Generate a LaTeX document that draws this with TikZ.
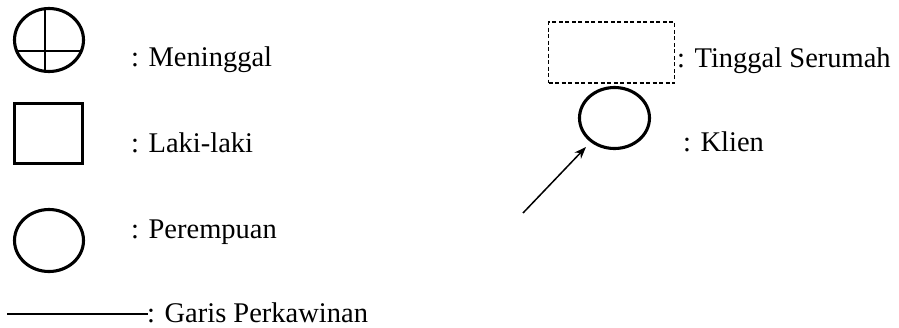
\documentclass[tikz,border=0pt]{standalone}
\usepackage{fontspec}
\setmainfont{Liberation Serif}
\usetikzlibrary{shapes.geometric,arrows.meta}
\begin{document}
\begin{tikzpicture}[x=1pt,y=-1pt,
  sym/.style={draw,line width=3.1pt,inner sep=0pt,outer sep=0pt},
  oval/.style={sym,ellipse,minimum width=69pt,minimum height=63pt},
  lab/.style={anchor=base west,inner sep=0pt,font=\fontsize{28.5}{34}\selectfont},
  thin/.style={line width=1.5pt}]
\useasboundingbox (0,0) rectangle (899,327);
% Meninggal
\node[oval] (dead) at (49,40) {};
\draw[thin] (45,8.7) -- (45,71.3);
\draw[thin] (16.7,51) -- (81.3,51);
\node[lab] (tdead) at (131,66) {: Meninggal};
% Laki-laki
\node[sym,rectangle,minimum width=68pt,minimum height=60pt] (male) at (48.5,133.5) {};
\node[lab] (tmale) at (131,152) {: Laki-laki};
% Perempuan
\node[oval,minimum height=62pt] (female) at (49,240.5) {};
\node[lab] (tfemale) at (131,238) {: Perempuan};
% Garis Perkawinan
\coordinate (ga) at (7,314);
\coordinate (gb) at (148,314);
\draw[thin] (ga) -- (gb);
\node[lab] (tmarr) at (147,322) {: Garis Perkawinan};
% Tinggal Serumah
\node[draw,thin,dash pattern=on 4pt off 2.5pt,rectangle,minimum width=126pt,minimum height=61pt,inner sep=0pt] (house) at (611.5,52.5) {};
\node[lab] (thouse) at (677,67) {: Tinggal Serumah};
% Klien
\node[oval,minimum width=70pt,minimum height=61pt] (client) at (614.5,118) {};
\node[lab] (tclient) at (683,151) {: Klien};
\coordinate (arrstart) at (523,213);
\draw[thin,-{Stealth[length=12pt,width=9pt]}] (arrstart) -- (586,147);
\end{tikzpicture}
\end{document}
